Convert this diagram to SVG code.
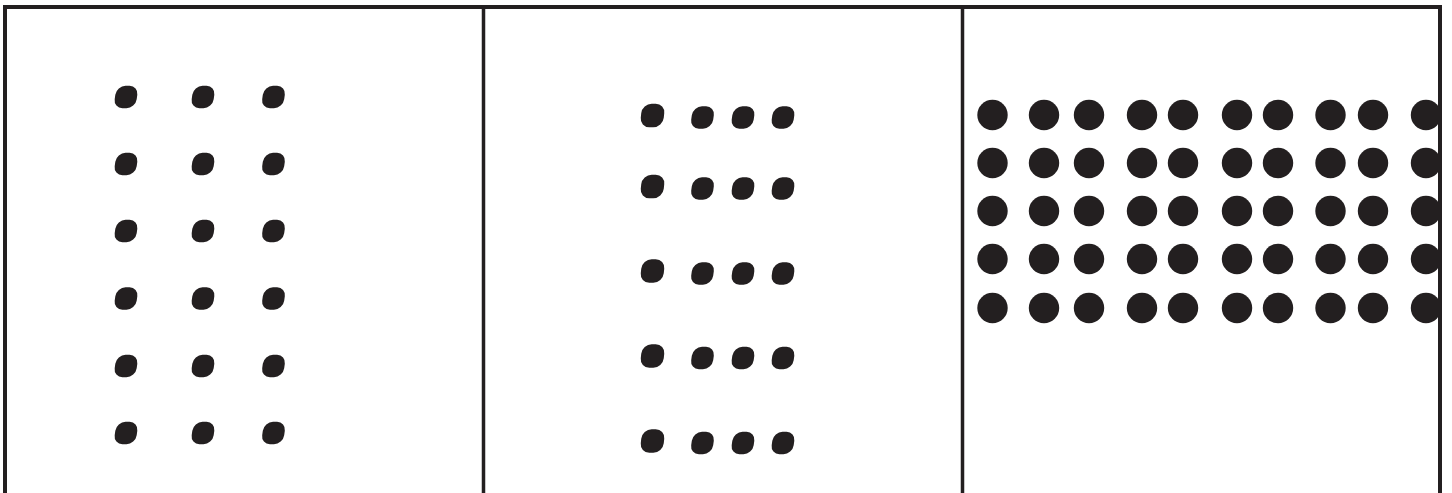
<svg xmlns="http://www.w3.org/2000/svg" width="1452" height="493" viewBox="0 0 1452 493">
<style>
.frame{stroke:#231f20;stroke-width:4;fill:none}
.ink{fill:#231f20}
</style>
<defs>
<rect id="blob" x="-11" y="-11.2" width="22" height="22.4" rx="9" transform="skewX(-8)"/>
<rect id="blobL" x="-11.5" y="-11.7" width="23" height="23.4" rx="9.5" transform="skewX(-6)"/>
</defs>
<rect width="1452" height="493" fill="#fff"/>
<g id="panel1" class="ink">
<use href="#blob" x="126" y="97"/><use href="#blob" x="203" y="97"/><use href="#blob" x="273.5" y="97"/>
<use href="#blob" x="126" y="164"/><use href="#blob" x="203" y="164"/><use href="#blob" x="273.5" y="164"/>
<use href="#blob" x="126" y="231"/><use href="#blob" x="203" y="231"/><use href="#blob" x="273.5" y="231"/>
<use href="#blob" x="126" y="298.5"/><use href="#blob" x="203" y="298.5"/><use href="#blob" x="273.5" y="298.5"/>
<use href="#blob" x="126" y="366"/><use href="#blob" x="203" y="366"/><use href="#blob" x="273.5" y="366"/>
<use href="#blob" x="126" y="433"/><use href="#blob" x="203" y="433"/><use href="#blob" x="273.5" y="433"/>
</g>
<g id="panel2" class="ink">
<use href="#blobL" x="652.5" y="115.5"/><use href="#blob" x="702.5" y="117.5"/><use href="#blob" x="743" y="117.5"/><use href="#blob" x="783" y="117.5"/>
<use href="#blobL" x="652.5" y="186.5"/><use href="#blob" x="702.5" y="188.5"/><use href="#blob" x="743" y="188.5"/><use href="#blob" x="783" y="188.5"/>
<use href="#blobL" x="652.5" y="271"/><use href="#blob" x="702.5" y="273.5"/><use href="#blob" x="743" y="273.5"/><use href="#blob" x="783" y="273.5"/>
<use href="#blobL" x="652.5" y="356"/><use href="#blob" x="702.5" y="358"/><use href="#blob" x="743" y="358"/><use href="#blob" x="783" y="358"/>
<use href="#blobL" x="652.5" y="441"/><use href="#blob" x="702.5" y="443"/><use href="#blob" x="743" y="443"/><use href="#blob" x="783" y="443"/>
</g>
<g id="panel3" class="ink">
<g id="row1" transform="translate(0,115)">
<circle cx="992.5" r="15.2"/><circle cx="1044" r="15.2"/><circle cx="1089" r="15.2"/><circle cx="1142" r="15.2"/><circle cx="1183" r="15.2"/><circle cx="1237" r="15.2"/><circle cx="1278" r="15.2"/><circle cx="1330.5" r="15.2"/><circle cx="1373" r="15.2"/><circle cx="1426" r="15.2"/>
</g>
<use href="#row1" y="48"/>
<use href="#row1" y="96"/>
<use href="#row1" y="144"/>
<use href="#row1" y="193"/>
</g>
<g id="frame" class="frame">
<path d="M5,493 V7 H1440 V493"/>
<line x1="483.5" y1="7" x2="483.5" y2="493" stroke-width="3.5"/>
<line x1="962.5" y1="7" x2="962.5" y2="493" stroke-width="3.5"/>
</g>
</svg>
